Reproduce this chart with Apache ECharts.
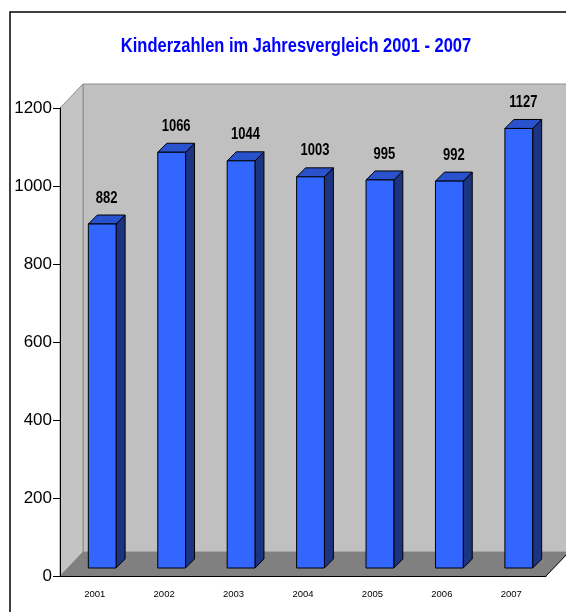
<!DOCTYPE html>
<html>

<head>
  <meta charset="utf-8" />
  <title>Kinderzahlen</title>
  <script src="https://cdn.jsdelivr.net/npm/echarts@6/dist/echarts.min.js"></script>
  <style>
    html, body { margin: 0; padding: 0; background: #fff; }
  </style>
</head>

<body>
  <div id="chart" style="width: 566px;height:612px;"></div>
  <script type="text/javascript">
    // data
    var years = ['2001', '2002', '2003', '2004', '2005', '2006', '2007'];
    var kinder = [882, 1066, 1044, 1003, 995, 992, 1127];
    var titleText = 'Kinderzahlen im Jahresvergleich 2001 - 2007';

    var sans = "'Liberation Sans', Arial, sans-serif";
    var depthX = 23, depthY = 24;   // back wall offset
    var barOff = 7.5, barDepth = 9;  // bar position inside the box

    var chart = echarts.init(document.getElementById('chart'));

    // walls + floor behind the bars
    var renderWalls = function (params, api) {
      var cs = params.coordSys;
      var x0 = cs.x, y0 = cs.y, x1 = cs.x + cs.width, yb = cs.y + cs.height;
      return {
        type: 'group',
        children: [
          { type: 'rect', shape: { x: x0 + depthX, y: y0 - depthY, width: cs.width, height: cs.height },
            style: { fill: '#c0c0c0', stroke: '#8c8c8c', lineWidth: 1 } },
          { type: 'polygon', shape: { points: [[x0, y0], [x0 + depthX, y0 - depthY], [x0 + depthX, yb - depthY], [x0, yb]] },
            style: { fill: '#c4c4c4', stroke: '#8c8c8c', lineWidth: 1 } },
          { type: 'polygon', shape: { points: [[x0, yb], [x1, yb], [x1 + depthX, yb - depthY], [x0 + depthX, yb - depthY]] },
            style: { fill: '#808080' } },
          { type: 'line', shape: { x1: x1, y1: yb, x2: x1 + depthX, y2: yb - depthY },
            style: { stroke: '#000', lineWidth: 1 } }
        ]
      };
    };

    var renderBar = function (params, api) {
      var idx = api.value(0), v = api.value(1);
      var top = api.coord([idx, v]);
      var base = api.coord([idx, 0]);
      var w = api.size([1, 0])[0] * 0.4;
      var fx = top[0] - w / 2 + barOff, fy = top[1] - 8, fb = base[1] - 8;
      var d = barDepth;
      return {
        type: 'group',
        children: [
          { type: 'polygon', shape: { points: [[fx + w, fy], [fx + w + d, fy - d], [fx + w + d, fb - d], [fx + w, fb]] },
            style: { fill: '#1b3380', stroke: '#000', lineWidth: 1 } },
          { type: 'polygon', shape: { points: [[fx, fy], [fx + w, fy], [fx + w + d, fy - d], [fx + d, fy - d]] },
            style: { fill: '#2a52cc', stroke: '#000', lineWidth: 1 } },
          { type: 'rect', shape: { x: fx, y: fy, width: w, height: fb - fy },
            style: { fill: '#3366ff', stroke: '#000', lineWidth: 1 } },
          { type: 'text', x: fx + w / 2 + d / 2, y: fy - d - 17, scaleY: 1.28,
            style: { text: String(v), fill: '#000', font: 'bold 13px ' + sans, align: 'center', verticalAlign: 'middle' } }
        ]
      };
    };

    var option = {
      animation: false,
      grid: { left: 60, top: 108, right: 20, bottom: 36 },
      xAxis: {
        type: 'category',
        data: years,
        z: 5,
        axisLine: { lineStyle: { color: '#000', width: 1 } },
        axisTick: { length: 7, lineStyle: { color: '#000' } },
        axisLabel: { color: '#000', fontSize: 9.5, fontFamily: sans, margin: 13 }
      },
      yAxis: {
        type: 'value',
        min: 0,
        max: 1200,
        interval: 200,
        z: 5,
        splitLine: { show: false },
        axisLine: { show: true, lineStyle: { color: '#000', width: 1 } },
        axisTick: { show: true, length: 7, lineStyle: { color: '#000' } },
        axisLabel: { color: '#000', fontSize: 17, fontFamily: sans, margin: 8,
          formatter: function (v) { return String(v); } }
      },
      graphic: [
        { type: 'polyline', shape: { points: [[10, 612], [10, 12], [566, 12]] },
          style: { stroke: '#000', lineWidth: 1.5, fill: null }, z: 10 },
        { type: 'text', x: 296, y: 46, scaleY: 1.25, z: 10,
          style: { text: titleText, fill: '#0000ff', font: 'bold 16.5px ' + sans, align: 'center', verticalAlign: 'middle' } }
      ],
      series: [
        { type: 'custom', renderItem: renderWalls, data: [[0, 0]], z: 1, silent: true },
        { type: 'custom', renderItem: renderBar, data: years.map(function (y, i) { return [i, kinder[i]]; }), z: 2 }
      ]
    };
    chart.setOption(option);
  </script>
</body>

</html>
